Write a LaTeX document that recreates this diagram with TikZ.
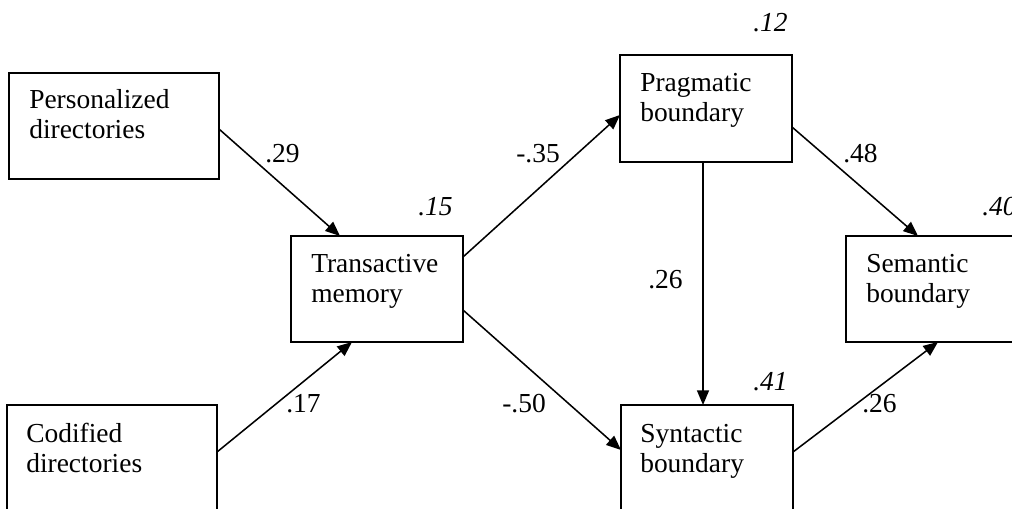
\documentclass[tikz,border=0pt]{standalone}
\usepackage{fontspec}
\setmainfont{Liberation Serif}
\usetikzlibrary{arrows.meta,calc}
\begin{document}
\begin{tikzpicture}[x=0.75pt,y=-0.75pt,
  box/.style={draw,line width=1.3pt,inner sep=0pt,outer sep=0pt,anchor=north west},
  boxtext/.style={anchor=base west,inner sep=0pt,align=left,text width=150pt,
    font=\fontsize{20.6pt}{23pt}\selectfont},
  coef/.style={anchor=base west,inner sep=0pt,font=\fontsize{20.6pt}{24pt}\selectfont},
  rsq/.style={coef,font=\fontsize{20.6pt}{24pt}\selectfont\itshape},
  arr/.style={line width=1.15pt,-{Triangle[length=11pt,width=9pt]}}]
\useasboundingbox (0,0) rectangle (1012,508);
\clip (0,0) rectangle (1012,508);
% boxes
\node[box,minimum width=157.5pt,minimum height=79.5pt] (P) at (9,73) {};
\node[box,minimum width=157.5pt,minimum height=86.25pt] (C) at (7,405) {};
\node[box,minimum width=129pt,minimum height=79.5pt] (T) at (291,236) {};
\node[box,minimum width=129pt,minimum height=80.25pt] (Pr) at (620,55) {};
\node[box,minimum width=129pt,minimum height=86.25pt] (S) at (621,405) {};
\node[box,minimum width=135pt,minimum height=79.5pt] (Se) at (846,236) {};
% box texts
\node[boxtext] (Pt) at ($(P.north west)+(20,35)$) {Personalized\\directories};
\node[boxtext] (Ct) at ($(C.north west)+(19,37)$) {Codified\\directories};
\node[boxtext] (Tt) at ($(T.north west)+(20,36)$) {Transactive\\memory};
\node[boxtext] (Prt) at ($(Pr.north west)+(20,36)$) {Pragmatic\\boundary};
\node[boxtext] (St) at ($(S.north west)+(19,37)$) {Syntactic\\boundary};
\node[boxtext] (Set) at ($(Se.north west)+(20,36)$) {Semantic\\boundary};
% connectors
\draw[arr] ($(P.north east)+(0,56)$) -- ($(T.north west)+(49,0)$);
\draw[arr] ($(C.north east)+(0,47)$) -- ($(T.south west)+(61,0)$);
\draw[arr] ($(T.north east)+(0,21)$) -- ($(Pr.north west)+(0,60)$);
\draw[arr] ($(T.north east)+(0,74)$) -- ($(S.north west)+(0,45)$);
\draw[arr] ($(Pr.south west)+(83,0)$) -- ($(S.north west)+(82,0)$);
\draw[arr] ($(Pr.north east)+(0,72)$) -- ($(Se.north west)+(72,0)$);
\draw[arr] ($(S.north east)+(0,47)$) -- ($(Se.south west)+(92,0)$);
% coefficients
\node[coef] (l29) at (265,162) {.29};
\node[coef] (l17) at (286,412) {.17};
\node[coef] (l35) at (516,162) {-.35};
\node[coef] (l50) at (502,412) {-.50};
\node[coef] (l26a) at (648,288) {.26};
\node[coef] (l48) at (843,162) {.48};
\node[coef] (l26b) at (862,412) {.26};
% R squared
\node[rsq] (r15) at (418,215) {.15};
\node[rsq] (r12) at (753,31) {.12};
\node[rsq] (r41) at (753,390) {.41};
\node[rsq] (r40) at (982,215) {.40};
\end{tikzpicture}
\end{document}
